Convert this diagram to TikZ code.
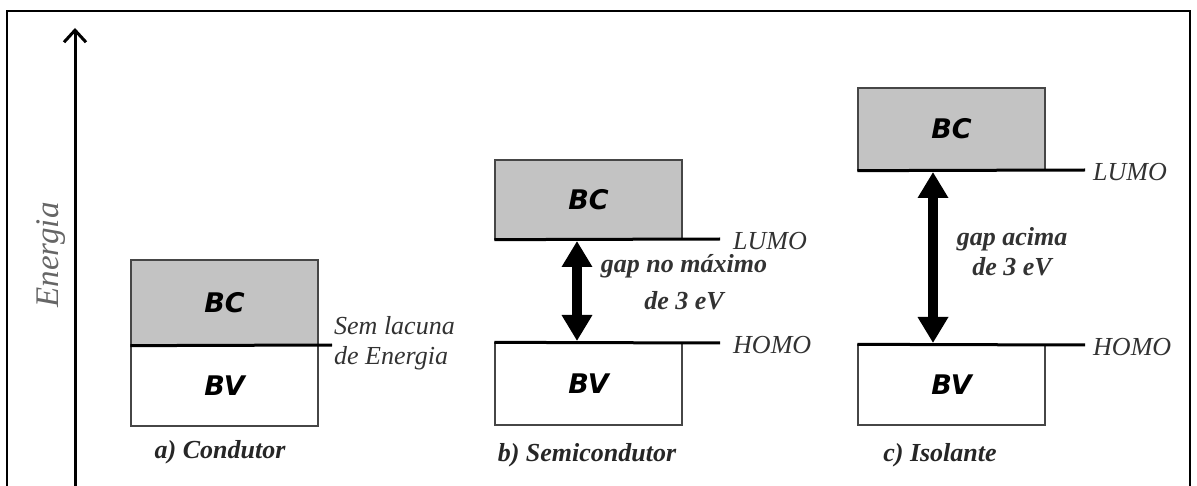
\documentclass[tikz,border=0pt]{standalone}
\usepackage{fontspec}
\setmainfont{Liberation Serif}
\newfontfamily\bandfont{DejaVu Sans}
\usetikzlibrary{arrows.meta}
\definecolor{bcgray}{RGB}{195,195,195}
\definecolor{boxline}{RGB}{70,70,70}
\definecolor{labelgray}{RGB}{50,50,50}
\begin{document}
\begin{tikzpicture}[x=1pt,y=-1pt,
  bandc/.style={draw=boxline,line width=1.3pt,fill=bcgray,minimum width=187pt,inner sep=0pt,
    font=\bandfont\bfseries\itshape\fontsize{27}{27}\selectfont},
  bandv/.style={draw=boxline,line width=1.3pt,fill=white,minimum width=187pt,inner sep=0pt,
    font=\bandfont\bfseries\itshape\fontsize{27}{27}\selectfont},
  level/.style={line width=3pt,black},
  lvltext/.style={anchor=west,inner sep=0pt,text=labelgray,font=\itshape\fontsize{26}{30}\selectfont},
  gaptext/.style={align=center,inner sep=0pt,text=labelgray,font=\bfseries\itshape\fontsize{26}{30}\selectfont},
  caption/.style={inner sep=0pt,text=black!85,font=\bfseries\itshape\fontsize{26}{26}\selectfont},
  gaparrow/.style={line width=10pt,{Triangle[width=29pt,length=26pt]}-{Triangle[width=29pt,length=26pt]}},
]
\useasboundingbox (0,0) rectangle (1197,486);
\draw[line width=1.5pt] (7,487) -- (7,11) -- (1190,11) -- (1190,487);

% energy axis
\coordinate (axb) at (75,490);
\coordinate (axt) at (75,28);
\draw[line width=3pt,-{Straight Barb[width=22pt,length=12pt,line width=3pt]}] (axb) -- (axt);
\node[rotate=90,text=black!60,font=\itshape\fontsize{33}{33}\selectfont,inner sep=0pt] (en) at (51,255) {Energia};

% a) Condutor
\node[bandc,minimum height=85pt] (bcA) at (224.5,302.5) {BC};
\node[bandv,minimum height=81pt] (bvA) at (224.5,385.5) {BV};
\coordinate (lA) at (332,345);
\draw[level] (bcA.south west) -- (lA);
\node[lvltext,align=left] (semA) at (334,343) {Sem lacuna\\de Energia};
\node[caption] (capA) at (220,452) {a) Condutor};

% b) Semicondutor
\node[bandc,minimum height=79pt] (bcB) at (588.5,199.5) {BC};
\node[bandv,minimum height=82pt] (bvB) at (588.5,384) {BV};
\coordinate (lumoB) at (720,239);
\coordinate (homoB) at (720,343);
\draw[level] (bcB.south west) -- (lumoB);
\draw[level] (bvB.north west) -- (homoB);
\node[lvltext] (lumoBt) at (733,241) {LUMO};
\node[lvltext] (homoBt) at (733,345) {HOMO};
\coordinate (gBt) at (577,241);
\coordinate (gBb) at (577,341);
\draw[gaparrow] (gBt) -- (gBb);
\node[gaptext,font=\bfseries\itshape\fontsize{26}{37}\selectfont] (gapB) at (684,282) {gap no máximo\\de 3 eV};
\node[caption] (capB) at (587,455) {b) Semicondutor};

% c) Isolante
\node[bandc,minimum height=82pt] (bcC) at (951.5,129) {BC};
\node[bandv,minimum height=80pt] (bvC) at (951.5,385) {BV};
\coordinate (lumoC) at (1085,170);
\coordinate (homoC) at (1085,345);
\draw[level] (bcC.south west) -- (lumoC);
\draw[level] (bvC.north west) -- (homoC);
\node[lvltext] (lumoCt) at (1093,172) {LUMO};
\node[lvltext] (homoCt) at (1093,347) {HOMO};
\coordinate (gCt) at (933,172);
\coordinate (gCb) at (933,343);
\draw[gaparrow] (gCt) -- (gCb);
\node[gaptext] (gapC) at (1012,252) {gap acima\\de 3 eV};
\node[caption] (capC) at (940,455) {c) Isolante};
\end{tikzpicture}
\end{document}
